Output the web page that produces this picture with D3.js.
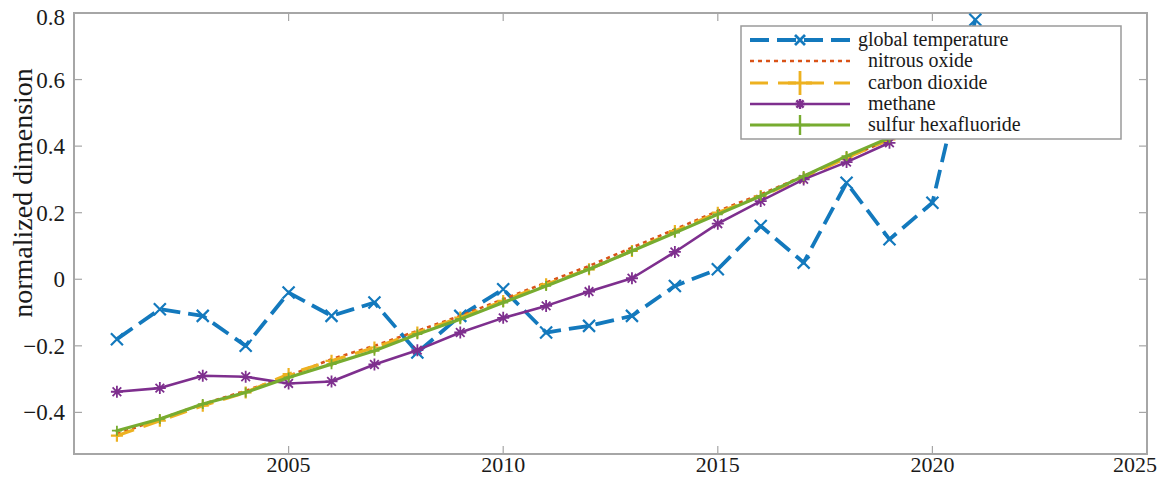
<!DOCTYPE html>
<html>
<head>
<meta charset="utf-8">
<script src="https://cdn.jsdelivr.net/npm/d3@7"></script>
<style>
  html, body { margin: 0; padding: 0; background: #fff; }
  svg { display: block; font-family: "Liberation Serif", "Times New Roman", serif; }
</style>
</head>
<body>
<svg id="chart" width="1160" height="479"></svg>
<script>
// ---- data ----
const years = [2001,2002,2003,2004,2005,2006,2007,2008,2009,2010,2011,2012,2013,2014,2015,2016,2017,2018,2019,2020,2021];
const gasYears = [2001,2002,2003,2004,2005,2006,2007,2008,2009,2010,2011,2012,2013,2014,2015,2016,2017,2018,2019];
const globalTemperature = [-0.18,-0.09,-0.11,-0.20,-0.04,-0.11,-0.07,-0.22,-0.11,-0.03,-0.16,-0.14,-0.11,-0.02,0.03,0.16,0.05,0.29,0.12,0.23,0.78];
const nitrousOxide = [-0.465,-0.42,-0.375,-0.335,-0.29,-0.24,-0.20,-0.155,-0.11,-0.06,-0.01,0.04,0.095,0.15,0.205,0.255,0.31,0.365,0.42];
const carbonDioxide = [-0.47,-0.425,-0.38,-0.34,-0.285,-0.245,-0.205,-0.16,-0.115,-0.065,-0.015,0.03,0.085,0.145,0.20,0.25,0.305,0.365,0.42];
const methane = [-0.338,-0.327,-0.29,-0.293,-0.313,-0.307,-0.256,-0.213,-0.16,-0.116,-0.08,-0.037,0.003,0.082,0.167,0.235,0.30,0.352,0.41];
const sulfurHexafluoride = [-0.455,-0.42,-0.375,-0.34,-0.295,-0.255,-0.215,-0.165,-0.12,-0.07,-0.02,0.03,0.085,0.14,0.195,0.25,0.31,0.37,0.425];
const xTicks = [2005,2010,2015,2020,2025];
const yTicks = [-0.4,-0.2,0,0.2,0.4,0.6,0.8];
const seriesNames = ["global temperature","nitrous oxide","carbon dioxide","methane","sulfur hexafluoride"];

// ---- layout ----
const L = 74, R = 1147, T = 13, B = 454;
const x = d3.scaleLinear().domain([2000, 2025]).range([L, R]);
const y = d3.scaleLinear().domain([-0.525, 0.8]).range([B, T]);
const svg = d3.select("#chart");

// marker shapes
const mk = {
  x: { draw(c, s) { const r = Math.sqrt(s) / 2; c.moveTo(-r,-r); c.lineTo(r,r); c.moveTo(-r,r); c.lineTo(r,-r); } },
  plus: { draw(c, s) { const r = Math.sqrt(s) / 2; c.moveTo(-r,0); c.lineTo(r,0); c.moveTo(0,-r); c.lineTo(0,r); } },
  star: { draw(c, s) { const r = Math.sqrt(s) / 2, d = r * 0.72; c.moveTo(-r,0); c.lineTo(r,0); c.moveTo(0,-r); c.lineTo(0,r); c.moveTo(-d,-d); c.lineTo(d,d); c.moveTo(-d,d); c.lineTo(d,-d); } }
};

const series = [
  { name: seriesNames[0], xs: years, vals: globalTemperature, color: "#1379bd", width: 3.8, dash: "19,8", marker: mk.x, msize: 144, mw: 2.2, lmsize: 100 },
  { name: seriesNames[1], xs: gasYears, vals: nitrousOxide, color: "#D95319", width: 2.6, dash: "4,4", marker: null },
  { name: seriesNames[2], xs: gasYears, vals: carbonDioxide, color: "#EDB120", width: 3.2, dash: "18,10", marker: mk.plus, msize: 144, mw: 2.2, lmsize: 576 },
  { name: seriesNames[3], xs: gasYears, vals: methane, color: "#7E2F8E", width: 2.6, dash: null, marker: mk.star, msize: 144, mw: 1.8, lmsize: 100 },
  { name: seriesNames[4], xs: gasYears, vals: sulfurHexafluoride, color: "#77AC30", width: 3.2, dash: null, marker: mk.plus, msize: 100, mw: 1.8, lmsize: 400 }
];

// frame
const frameColor = "#a6a6a6";
svg.append("rect").attr("x", L).attr("y", T).attr("width", R - L).attr("height", B - T)
  .attr("fill", "#fff").attr("stroke", frameColor).attr("stroke-width", 2);

// ticks (inside, all four sides)
const tk = 8;
const g = svg.append("g").attr("stroke", frameColor).attr("stroke-width", 1.2);
xTicks.filter(v => v < 2025).forEach(v => {
  g.append("line").attr("x1", x(v)).attr("x2", x(v)).attr("y1", B).attr("y2", B - tk);
  g.append("line").attr("x1", x(v)).attr("x2", x(v)).attr("y1", T).attr("y2", T + tk);
});
yTicks.filter(v => v < 0.8).forEach(v => {
  g.append("line").attr("x1", L).attr("x2", L + tk).attr("y1", y(v)).attr("y2", y(v));
  g.append("line").attr("x1", R).attr("x2", R - tk).attr("y1", y(v)).attr("y2", y(v));
});

// tick labels
svg.append("g").selectAll("text").data(xTicks).join("text")
  .attr("x", d => d === 2025 ? 1157 : x(d)).attr("y", 472)
  .attr("text-anchor", d => d === 2025 ? "end" : "middle")
  .attr("font-size", 22).attr("fill", "#1a1a1a").text(d => d);
svg.append("g").selectAll("text").data(yTicks).join("text")
  .attr("x", 65).attr("y", d => d === 0.8 ? y(d) + 4 : y(d)).attr("dy", "0.35em").attr("text-anchor", "end")
  .attr("font-size", 23).attr("fill", "#1a1a1a").text(d => d === 0 ? "0" : d3.format(".1f")(d));

// y label
svg.append("text").attr("transform", "translate(32,193) rotate(-90)")
  .attr("text-anchor", "middle").attr("font-size", 28).attr("fill", "#1a1a1a")
  .text("normalized dimension");

// lines
const plot = svg.append("g");
series.forEach(s => {
  const pts = s.xs.map((yr, i) => [yr, s.vals[i]]);
  const line = d3.line().x(d => x(d[0])).y(d => y(d[1]));
  plot.append("path").datum(pts).attr("d", line)
    .attr("fill", "none").attr("stroke", s.color).attr("stroke-width", s.width)
    .attr("stroke-linejoin", "round").attr("stroke-linecap", s.dash ? "butt" : "round")
    .attr("stroke-dasharray", s.dash);
  if (s.marker) {
    plot.append("g").selectAll("path").data(pts).join("path")
      .attr("transform", d => `translate(${x(d[0])},${y(d[1])})`)
      .attr("d", d3.symbol().type(s.marker).size(s.msize))
      .attr("fill", "none").attr("stroke", s.color).attr("stroke-width", s.mw);
  }
});

// legend
const lg = svg.append("g");
lg.append("rect").attr("x", 741).attr("y", 26).attr("width", 380).attr("height", 113)
  .attr("fill", "#fff").attr("stroke", "#9a9a9a").attr("stroke-width", 1.5);
const rowY = [40, 61, 83, 104, 125];
const textX = [858, 868, 868, 868, 868];
series.forEach((s, i) => {
  const ry = rowY[i];
  lg.append("line").attr("x1", 750).attr("x2", 850).attr("y1", ry).attr("y2", ry)
    .attr("stroke", s.color).attr("stroke-width", s.width).attr("stroke-dasharray", s.dash);
  if (s.marker) {
    lg.append("path").attr("transform", `translate(800,${ry})`)
      .attr("d", d3.symbol().type(s.marker).size(s.lmsize))
      .attr("fill", "none").attr("stroke", s.color).attr("stroke-width", s.mw + 0.6);
  }
  lg.append("text").attr("x", textX[i]).attr("y", ry + 6).attr("font-size", 20)
    .attr("fill", "#1a1a1a").text(s.name);
});
</script>
</body>
</html>
